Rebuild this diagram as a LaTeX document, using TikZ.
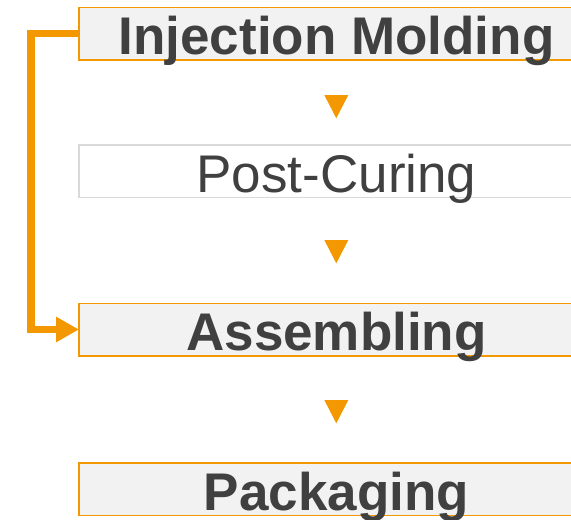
\documentclass[tikz,border=0pt]{standalone}
\usepackage{fontspec}
\setmainfont{Liberation Sans}
\usetikzlibrary{positioning,arrows.meta}

\definecolor{flowOrange}{HTML}{F39800}
\definecolor{stepFill}{HTML}{F2F2F2}
\definecolor{stepText}{HTML}{404040}
\definecolor{stepLine}{HTML}{D9D9D9}

\tikzset{
  stepbox/.style={rectangle, draw=flowOrange, line width=1.5pt, fill=stepFill,
    minimum width=515pt, minimum height=52.5pt, inner sep=0pt, outer sep=0pt,
    text height=46pt, text depth=4pt, text=stepText,
    font=\fontsize{53}{60}\selectfont},
  mainstep/.style={stepbox, font=\fontsize{53}{60}\selectfont\bfseries},
  flow/.style={draw=flowOrange, line width=7.5pt, -{Triangle[length=23pt, width=24pt]}}
}

\begin{document}
\begin{tikzpicture}[x=1pt, y=1pt]
    \useasboundingbox (0,0) rectangle (571,-520);
    \clip (0,0) rectangle (571,-520);

    % Process steps
    \node [mainstep] (mold) at (336.5,-33.5) {Injection Molding};
    \node [stepbox, draw=stepLine, fill=white, below=85pt of mold] (cure) {Post-Curing};
    \node [mainstep, below=106pt of cure] (assembly) {Assembling};
    \node [mainstep, below=107.3pt of assembly] (pack) {Packaging};

    % Step markers
    \fill[flowOrange] (324.3,-95) -- (348.3,-95) -- (336.3,-118.3) -- cycle;
    \fill[flowOrange] (324.3,-240) -- (348.3,-240) -- (336.3,-263.3) -- cycle;
    \fill[flowOrange] (324.3,-400) -- (348.3,-400) -- (336.3,-423.3) -- cycle;

    % Bypass
    \draw[flow] (mold.west) -- ++(-48,0) |- (assembly.west);
\end{tikzpicture}
\end{document}
